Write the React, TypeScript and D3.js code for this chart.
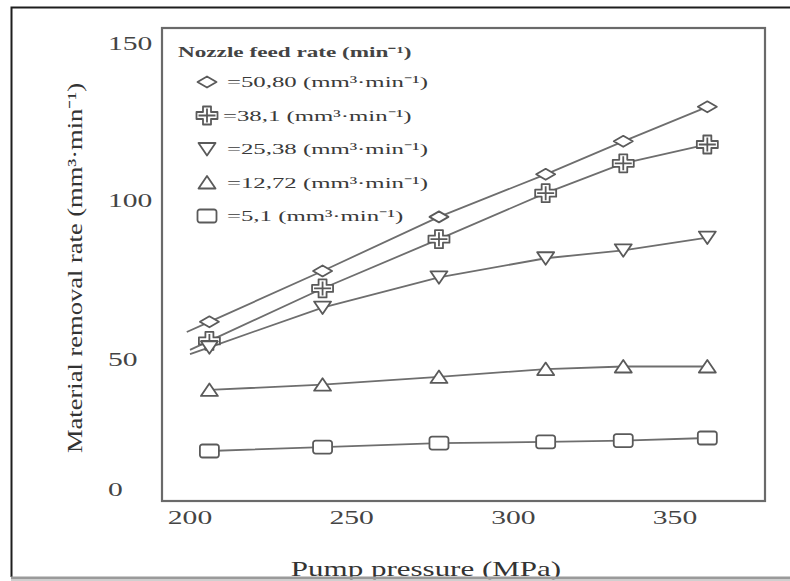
import React from "react";
import * as d3 from "d3";

// pump pressure (MPa) at each measured point
const pressure = [206, 241, 277, 310, 334, 360];

// material removal rate (mm3/min) for each nozzle feed rate
const rate5080 = [62, 78, 95, 108.5, 119, 130];
const rate381 = [56, 72.5, 88, 102.5, 112, 118];
const rate2538 = [54, 66.5, 76, 82, 84.5, 88.5];
const rate1272 = [38.5, 40.5, 43.5, 46.5, 47.5, 47.5];
const rate51 = [15, 16.5, 18, 18.5, 19, 20];

const feedLabels = [
  "=50,80 (mm³·min⁻¹)",
  "=38,1 (mm³·min⁻¹)",
  "=25,38 (mm³·min⁻¹)",
  "=12,72 (mm³·min⁻¹)",
  "=5,1 (mm³·min⁻¹)",
];
const markers = ["diamond", "cross", "down", "up", "square"];
// fitted lines of the top three series run a little past the first point
const lineStart = [199, 200, 200, null, null];

const xTicks = [200, 250, 300, 350];
const yTicks = [0, 50, 100, 150];

const W = 790;
const H = 581;
const SX = 1.6; // the source figure is stretched sideways
const FONT = "'Liberation Serif', 'Times New Roman', serif";
const INK = "#5a5a5a";

function markerPath(kind: string) {
  switch (kind) {
    case "diamond":
      return "M-9.5,0L0,-5.5L9.5,0L0,5.5Z";
    case "cross": {
      const w = 10.5, h = 9, a = 4, b = 3.5;
      return (
        `M${-a},${-h}H${a}V${-b}H${w}V${b}H${a}V${h}H${-a}V${b}H${-w}V${-b}H${-a}Z` +
        `M0,${-h + 2}V${h - 2}M${-w + 2},0H${w - 2}`
      );
    }
    case "down":
      return "M-8.5,-6H8.5L0,6.5Z";
    case "up":
      return "M-8.5,6H8.5L0,-6.5Z";
    default:
      return "M-7,-6.5H7A2.5,2.5 0 0 1 9.5,-4V4A2.5,2.5 0 0 1 7,6.5H-7A2.5,2.5 0 0 1 -9.5,4V-4A2.5,2.5 0 0 1 -7,-6.5Z";
  }
}

export default function App() {
  const series = [rate5080, rate381, rate2538, rate1272, rate51];

  const x = d3.scaleLinear().domain([200, 350]).range([190, 675]);
  // tick labels of the source axis are not evenly spaced
  const y = d3.scaleLinear().domain(yTicks).range([490, 360, 201, 44]);

  const line = d3
    .line<[number, number]>()
    .x((d) => x(d[0]))
    .y((d) => y(d[1]));

  const box = { left: 162, right: 765, top: 28, bottom: 501 };

  return (
    <svg
      width={W}
      height={H}
      style={{ position: "absolute", left: 0, top: 0, background: "#fff" }}
      fontFamily={FONT}
    >
      {/* outer frame of the picture */}
      <path d={`M${W},7.5H11.5V577`} fill="none" stroke="#1e1e1e" strokeWidth={2} />

      {/* plot box */}
      <rect
        x={box.left}
        y={box.top}
        width={box.right - box.left}
        height={box.bottom - box.top}
        fill="none"
        stroke="#6a6a6a"
        strokeWidth={2.2}
      />

      {/* y tick labels */}
      {yTicks.map((t) => (
        <text
          key={"y" + t}
          transform={`translate(108,${y(t)}) scale(${SX},1)`}
          dominantBaseline="central"
          fontSize={18.5}
          fill="#444"
        >
          {t}
        </text>
      ))}

      {/* x tick labels */}
      {xTicks.map((t) => (
        <text
          key={"x" + t}
          transform={`translate(${x(t)},518) scale(${SX},1)`}
          textAnchor="middle"
          dominantBaseline="central"
          fontSize={18.5}
          fill="#444"
        >
          {t}
        </text>
      ))}

      {/* axis titles */}
      <text
        transform={`translate(426,576) scale(1.55,1)`}
        textAnchor="middle"
        fontSize={20}
        fill="#333"
      >
        Pump pressure  (MPa)
      </text>
      <text
        transform="translate(82,268) rotate(-90)"
        textAnchor="middle"
        fontSize={21}
        fill="#333"
        textLength={370}
        lengthAdjust="spacingAndGlyphs"
      >
        Material removal rate  (mm³·min⁻¹)
      </text>

      {/* bottom edge of the picture, drawn over the cut-off axis title */}
      <line x1={11} x2={W} y1={578} y2={578} stroke="#9a9a9a" strokeWidth={3} />
      <line x1={11} x2={W} y1={580.5} y2={580.5} stroke="#d0d0d0" strokeWidth={2} />

      {/* series lines */}
      {series.map((vals, i) => {
        const pts: [number, number][] = pressure.map((p, j) => [p, vals[j]]);
        const s = lineStart[i];
        if (s != null) {
          const k = (vals[1] - vals[0]) / (pressure[1] - pressure[0]);
          pts.unshift([s, vals[0] + k * (s - pressure[0])]);
        }
        return (
          <path
            key={"l" + i}
            d={line(pts) || ""}
            fill="none"
            stroke="#6e6e6e"
            strokeWidth={1.8}
          />
        );
      })}

      {/* series markers */}
      {series.map((vals, i) =>
        pressure.map((p, j) => (
          <path
            key={`m${i}-${j}`}
            d={markerPath(markers[i])}
            transform={`translate(${x(p)},${y(vals[j])})`}
            fill="#fff"
            stroke={INK}
            strokeWidth={1.8}
            strokeLinejoin="round"
          />
        ))
      )}

      {/* legend */}
      <text
        transform={`translate(178,52) scale(${SX},1)`}
        dominantBaseline="central"
        fontSize={14.5}
        fontWeight="bold"
        fill="#444"
      >
        Nozzle feed rate (min⁻¹)
      </text>
      {feedLabels.map((label, i) => {
        const cy = 82 + i * 33.5;
        return (
          <g key={"lg" + i}>
            <path
              d={markerPath(markers[i])}
              transform={`translate(207,${cy})`}
              fill="#fff"
              stroke={INK}
              strokeWidth={1.8}
              strokeLinejoin="round"
            />
            <text
              transform={`translate(${i === 1 ? 223 : 227},${cy}) scale(${SX},1)`}
              dominantBaseline="central"
              fontSize={15.5}
              fill="#3a3a3a"
            >
              {label}
            </text>
          </g>
        );
      })}
    </svg>
  );
}
